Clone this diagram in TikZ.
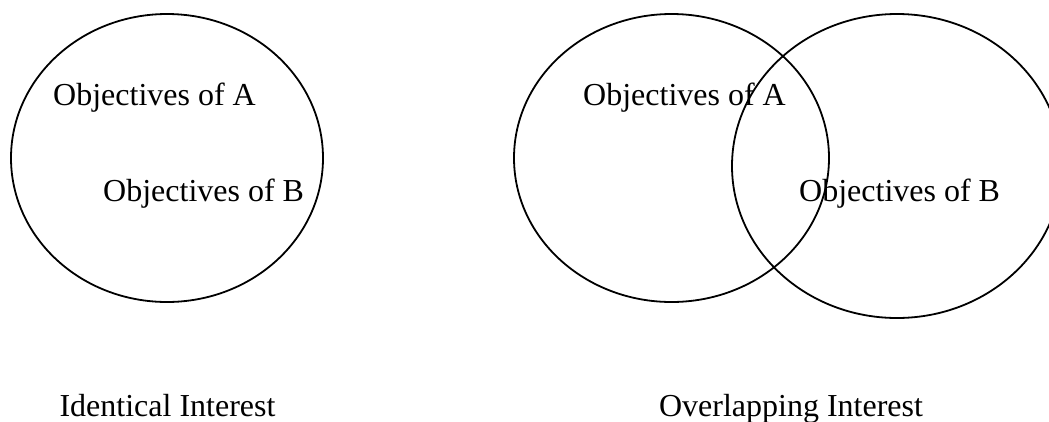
\documentclass[tikz,border=0pt]{standalone}
\usepackage{fontspec}
\setmainfont{Liberation Serif}
\usetikzlibrary{shapes.geometric}
\tikzset{
  venn/.style={draw, ellipse, line width=1.8pt, inner sep=0pt},
  lbl/.style={font=\fontsize{32}{38}\selectfont, inner sep=0pt},
}
\begin{document}
\begin{tikzpicture}[x=1pt,y=-1pt]
\useasboundingbox (0,0) rectangle (1049,421);
\node[venn, minimum width=312pt, minimum height=288pt] (L) at (167,158) {};
\node[venn, minimum width=315pt, minimum height=288pt] (R1) at (671.5,158) {};
\node[venn, minimum width=330pt, minimum height=304pt] (R2) at (897,166) {};
\node[lbl, anchor=base west] (la) at (53,105) {Objectives of A};
\node[lbl, anchor=base west] (lb) at (103,201) {Objectives of B};
\node[lbl, anchor=base west] (ra) at (583,105) {Objectives of A};
\node[lbl, anchor=base west] (rb) at (799,201) {Objectives of B};
\node[lbl, anchor=base] (li) at (167.5,416) {Identical Interest};
\node[lbl, anchor=base] (ro) at (791,416) {Overlapping Interest};
\end{tikzpicture}
\end{document}
